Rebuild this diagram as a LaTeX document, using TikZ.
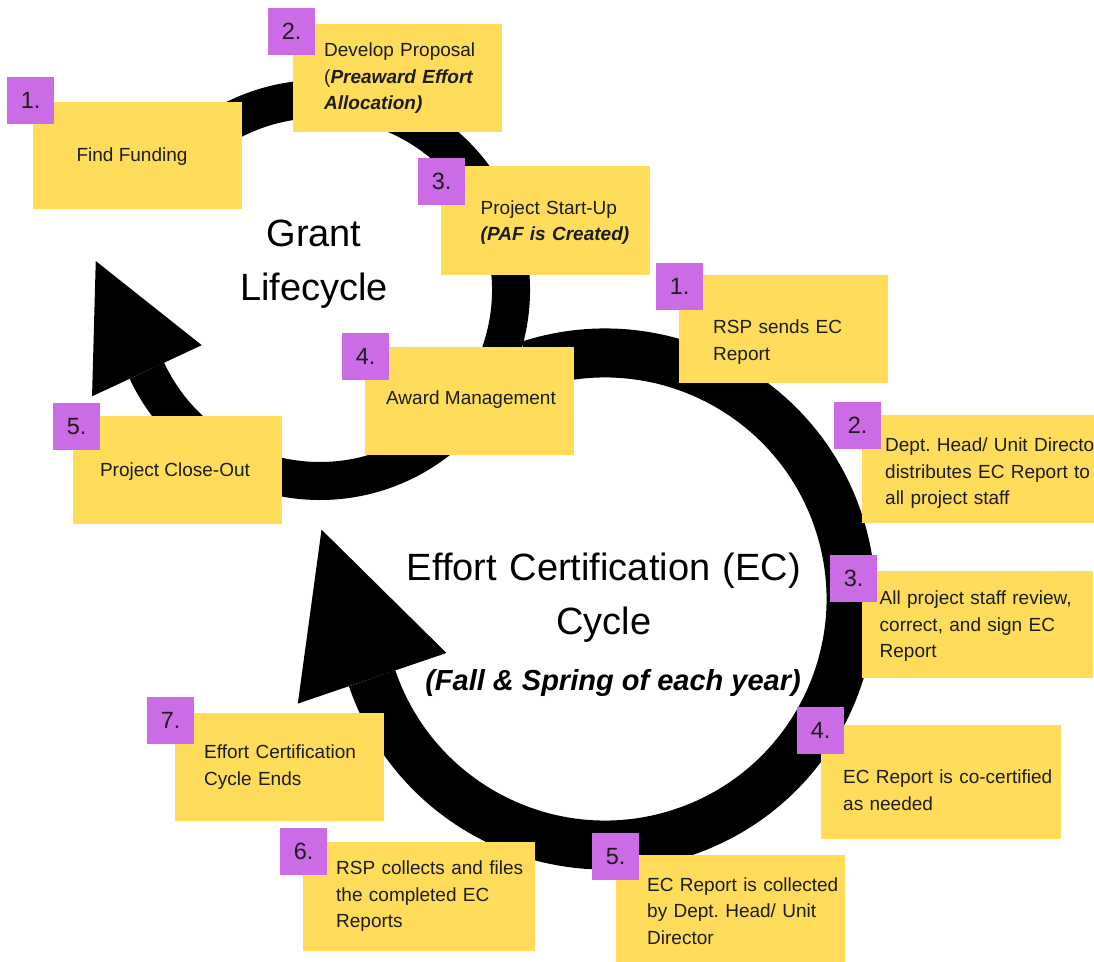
\documentclass[tikz,border=0pt]{standalone}
\usepackage{fontspec}
\setmainfont{Liberation Sans}
\usetikzlibrary{calc}
\definecolor{stickyY}{HTML}{FFDC59}
\definecolor{stickyP}{HTML}{CB6CE6}
\definecolor{txt}{HTML}{1C1C1C}
\frenchspacing
\begin{document}
\begin{tikzpicture}[x=1pt,y=-1pt,
  ring/.style={draw=black,line width=#1},
  head/.style={fill=black,draw=none},
  note/.style={fill=stickyY,draw=none,inner sep=0pt,anchor=north west},
  numbox/.style={fill=stickyP,draw=none,inner sep=0pt,minimum size=47pt,anchor=north west,
    text=txt,font=\fontsize{23.5pt}{28pt}\selectfont},
  notetext/.style={inner sep=0pt,text=txt,align=left,text width=260pt,anchor=base west,
    font=\fontsize{19pt}{26.5pt}\selectfont\frenchspacing},
  oneline/.style={inner sep=0pt,text=txt,anchor=base,font=\fontsize{19pt}{26.5pt}\selectfont},
  title/.style={inner sep=0pt,text=black,align=center,text width=520pt,anchor=base,
    font=\fontsize{38pt}{54pt}\selectfont},
  subtitle/.style={inner sep=0pt,text=black,anchor=base,
    font=\fontsize{29pt}{34pt}\selectfont\bfseries\itshape}
]
\useasboundingbox (0,0) rectangle (1094,961);
\clip (0,0) rectangle (1094,961);

% ---------- rings ----------
\coordinate (gc) at (320,290);
\coordinate (ec) at (605,599);
\draw[ring=38pt] ($(gc)+(-117:191)$) arc[start angle=-117,end angle=155,radius=191];
\fill[head] ($(gc)+(155:130.5)$) -- ($(gc)+(155:251.5)$) -- ($(gc)+(155:191)+(245:121)$) -- cycle;
\draw[ring=49pt] ($(ec)+(-108:246)$) arc[start angle=-108,end angle=161.2,radius=246];
\fill[head] ($(ec)+(161.2:167.5)$) -- ($(ec)+(161.2:324.5)$) -- ($(ec)+(161.2:246)+(251.2:157)$) -- cycle;

% ---------- titles ----------
\node[title] (gtitle) at (314,246) {Grant\\Lifecycle};
\node[title] (etitle) at (604,580) {Effort Certification (EC)\\Cycle};
\node[subtitle] (esub) at (613,690) {(Fall \& Spring of each year)};

% ---------- grant lifecycle notes ----------
\node[note,minimum width=209pt,minimum height=107pt] (g1) at (33,102) {};
\node[note,minimum width=209pt,minimum height=108pt] (g2) at (293,24) {};
\node[note,minimum width=209pt,minimum height=109pt] (g3) at (441,166) {};
\node[note,minimum width=209pt,minimum height=108pt] (g4) at (365,347) {};
\node[note,minimum width=209pt,minimum height=108pt] (g5) at (73,416) {};

\node[numbox] (g1n) at (7,77) {1.};
\node[numbox] (g2n) at (268,8) {2.};
\node[numbox] (g3n) at (418,158) {3.};
\node[numbox] (g4n) at (342,333) {4.};
\node[numbox] (g5n) at (53,403) {5.};

\node[oneline] (g1t) at (132,161.5) {Find Funding};
\node[notetext] (g2t) at (324,56.5) {Develop Proposal\\(\textbf{\textit{Preaward Effort}}\\\textbf{\textit{Allocation)}}};
\node[notetext] (g3t) at (480.5,214) {Project Start-Up\\\textbf{\textit{(PAF is Created)}}};
\node[oneline] (g4t) at (471,404.5) {Award Management};
\node[oneline] (g5t) at (175,476) {Project Close-Out};

% ---------- effort certification notes ----------
\node[note,minimum width=209pt,minimum height=108pt] (e1) at (679,275) {};
\node[note,minimum width=240pt,minimum height=108pt] (e2) at (862,415) {};
\node[note,minimum width=231pt,minimum height=107pt] (e3) at (862,571) {};
\node[note,minimum width=240pt,minimum height=114pt] (e4) at (821,725) {};
\node[note,minimum width=229pt,minimum height=112pt] (e5) at (616,855) {};
\node[note,minimum width=232pt,minimum height=109pt] (e6) at (303,842) {};
\node[note,minimum width=209pt,minimum height=108pt] (e7) at (175,713) {};

\node[numbox] (e1n) at (656,263) {1.};
\node[numbox] (e2n) at (834,402) {2.};
\node[numbox] (e3n) at (830,555) {3.};
\node[numbox] (e4n) at (797,707) {4.};
\node[numbox] (e5n) at (592,833) {5.};
\node[numbox] (e6n) at (280,828) {6.};
\node[numbox] (e7n) at (147,697) {7.};

\node[notetext] (e1t) at (713,333.5) {RSP sends EC\\Report};
\node[notetext] (e2t) at (885,451.5) {Dept. Head/ Unit Director\\distributes EC Report to\\all project staff};
\node[notetext] (e3t) at (879.5,604.5) {All project staff review,\\correct, and sign EC\\Report};
\node[notetext] (e4t) at (843,783.5) {EC Report is co-certified\\as needed};
\node[notetext] (e5t) at (647,891) {EC Report is collected\\by Dept. Head/ Unit\\Director};
\node[notetext] (e6t) at (336,874.5) {RSP collects and files\\the completed EC\\Reports};
\node[notetext] (e7t) at (204,758.5) {Effort Certification\\Cycle Ends};
\end{tikzpicture}
\end{document}
